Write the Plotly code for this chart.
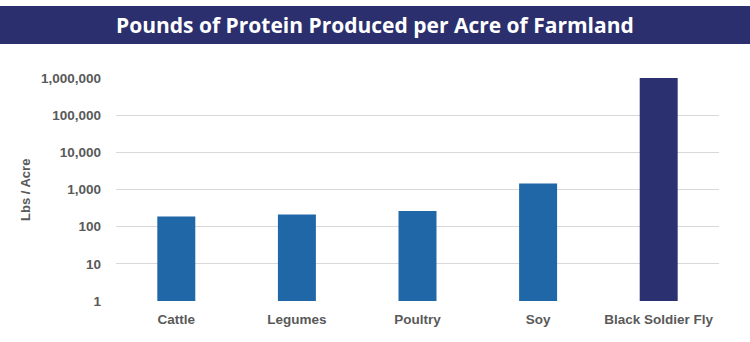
import plotly.graph_objects as go

categories = ["Cattle", "Legumes", "Poultry", "Soy", "Black Soldier Fly"]
values = [189, 214, 263, 1460, 1000000]
bar_colors = ["#1F67A7", "#1F67A7", "#1F67A7", "#1F67A7", "#2B3170"]
tick_vals = [1, 10, 100, 1000, 10000, 100000, 1000000]
tick_text = ["1", "10", "100", "1,000", "10,000", "100,000", "1,000,000"]
title_text = "Pounds of Protein Produced per Acre of Farmland"
y_title = "Lbs / Acre"

W, H = 750, 342
L, R, T, B = 116, 31, 78, 41
pw, ph = W - L - R, H - T - B

def px_x(px):
    return (px - L) / pw

def px_y(py):
    return (H - B - py) / ph

fig = go.Figure(go.Bar(
    x=categories, y=values, marker=dict(color=bar_colors, line=dict(width=0)),
    width=0.315,
))

fig.update_layout(
    width=W, height=H,
    margin=dict(l=L, r=R, t=T, b=B),
    paper_bgcolor="white", plot_bgcolor="white",
    showlegend=False,
    font=dict(family="Liberation Sans, Arial", color="#595959"),
    shapes=[dict(type="rect", xref="paper", yref="paper",
                 x0=px_x(0), x1=px_x(W), y0=px_y(44), y1=px_y(6),
                 fillcolor="#2B2F6D", line=dict(width=0), layer="above")],
    annotations=[
        dict(text=title_text, xref="paper", yref="paper",
             x=px_x(375), y=px_y(25), xanchor="center", yanchor="middle",
             showarrow=False,
             font=dict(family="Open Sans", size=21, color="white", weight="bold")),
        dict(text=y_title, xref="paper", yref="paper",
             x=px_x(25), y=px_y(190), xanchor="center", yanchor="middle",
             textangle=-90, showarrow=False,
             font=dict(family="Liberation Sans, Arial", size=13, color="#595959", weight="bold")),
    ],
)

fig.update_yaxes(
    type="log", range=[0, 6], tickvals=tick_vals, ticktext=tick_text,
    showgrid=True, gridcolor="#D9D9D9", gridwidth=1,
    zeroline=False, showline=False, ticks="",
    ticklabelstandoff=14,
    tickfont=dict(size=13.5, color="#595959", weight="bold"),
)
fig.update_xaxes(
    showgrid=False, showline=False, ticks="",
    ticklabelstandoff=8,
    tickfont=dict(size=13.5, color="#595959", weight="bold"),
)

fig.write_html("out.html")
